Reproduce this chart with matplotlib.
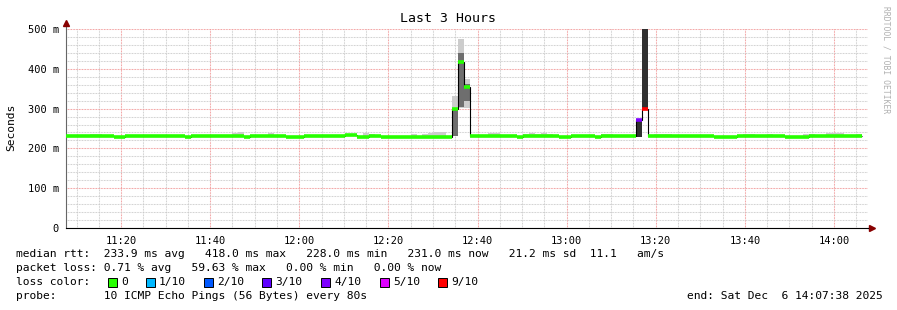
import numpy as np
import matplotlib
matplotlib.use("Agg")
import matplotlib.pyplot as plt
import matplotlib.dates as mdates
from matplotlib.patches import Rectangle
from datetime import datetime, timedelta

W, H = 897, 310

# time range of the graph, one step per probe round (80 s)
t_start = datetime(2025, 12, 6, 11, 7, 38)
t_end = datetime(2025, 12, 6, 14, 7, 38)
step_s = 80

# median rtt per step, ms
median_ms = [
    230, 230, 230, 230, 230, 230, 231, 231, 229, 229,
    230, 230, 230, 230, 230, 230, 230, 231, 231, 231,
    229, 230, 230, 230, 230, 230, 230, 230, 232, 232,
    229, 230, 230, 230, 230, 230, 230, 229, 229, 229,
    230, 230, 230, 230, 230, 230, 230, 234, 234, 228,
    228, 230, 230, 228, 229, 229, 229, 228, 228, 229,
    229, 229, 229, 229, 229, 299, 418, 355, 230, 230,
    230, 230, 230, 230, 230, 230, 229, 230, 230, 230,
    230, 230, 230, 228, 228, 230, 230, 230, 230, 228,
    230, 230, 230, 230, 230, 230, 271, 298, 230, 230,
    230, 230, 230, 230, 231, 231, 231, 230, 230, 229,
    229, 229, 229, 230, 230, 230, 230, 230, 230, 230,
    230, 229, 229, 229, 229, 230, 230, 230, 230, 230,
    230, 230, 230, 231,
]

# lost pings (of 10) where not zero
loss_steps = [96, 97]
loss_counts = [4, 9]

# smoke (spread of the 10 pings), ms
smoke_steps = [4, 5, 12, 17, 28, 29, 34, 50, 51, 58, 60, 61, 62, 63, 65, 66, 67,
               71, 72, 77, 78, 79, 80, 81, 90, 91, 96, 97, 99, 100, 101, 114, 115,
               118, 124, 125, 128, 129, 130, 133]
smoke_lo = [229, 229, 229, 229, 229, 229, 229, 229, 229, 229, 229, 229, 229, 229,
            231, 301, 301, 229, 229, 229, 229, 229, 229, 229, 229, 229, 229, 298,
            229, 229, 229, 229, 229, 229, 229, 229, 229, 229, 229, 229]
smoke_hi = [235, 235, 234, 234, 238, 240, 238, 238, 237, 235, 236, 238, 241, 240,
            332, 475, 374, 239, 239, 236, 238, 237, 238, 236, 236, 235, 272, 520,
            235, 235, 235, 236, 236, 235, 235, 235, 239, 239, 238, 235]
core_steps = [65, 66, 67, 96, 97]
core_lo = [231, 305, 318, 229, 298]
core_hi = [301, 440, 362, 272, 520]

loss_levels = [0, 1, 2, 3, 4, 5, 9]
loss_labels = ["0", "1/10", "2/10", "3/10", "4/10", "5/10", "9/10"]
loss_colors = ["#26ff00", "#00b8ff", "#0059ff", "#5e00ff", "#7e00ff", "#dd00ff", "#ff0000"]

y_ticks = [0, 100, 200, 300, 400, 500]

mono = "DejaVu Sans Mono"


def loss_color(n):
    c = loss_colors[0]
    for lvl, col in zip(loss_levels, loss_colors):
        if n >= lvl:
            c = col
    return c


n = len(median_ms)
loss = np.zeros(n, dtype=int)
loss[loss_steps] = loss_counts
edges = mdates.date2num([t_start + timedelta(seconds=step_s * i) for i in range(n + 1)])
w = step_s / 86400.0

fig = plt.figure(figsize=(W / 100, H / 100), dpi=100)
fig.patch.set_facecolor("white")
ax = fig.add_axes([66 / W, (H - 228) / H, (868 - 66) / W, (228 - 29) / H])
ax.set_xlim(mdates.date2num(t_start), mdates.date2num(t_end))
ax.set_ylim(0, 500)

# ---- grid ----
ax.set_axisbelow(True)
ax.xaxis.set_major_locator(mdates.MinuteLocator(byminute=[0, 20, 40]))
ax.xaxis.set_minor_locator(mdates.MinuteLocator(byminute=range(0, 60, 5)))
ax.xaxis.set_major_formatter(mdates.DateFormatter("%H:%M"))
ax.set_yticks(y_ticks, ["0" if v == 0 else f"{v} m" for v in y_ticks])
ax.set_yticks(np.arange(0, 501, 20), minor=True)
ax.grid(which="minor", color="#c8c8c8", linestyle=(0, (0.75, 0.75)), lw=0.75)
ax.grid(which="major", color="#f09090", linestyle=(0, (0.75, 0.75)), lw=0.75)
ax.tick_params(which="both", length=0)
ax.tick_params(axis="x", pad=6, labelsize=7.5)
ax.tick_params(axis="y", pad=5, labelsize=7.5)
for lab in ax.get_xticklabels() + ax.get_yticklabels():
    lab.set_fontfamily(mono)

for s in ["top", "right"]:
    ax.spines[s].set_visible(False)
ax.spines["left"].set_color("#666666")
ax.spines["bottom"].set_color("black")
ax.spines["left"].set_linewidth(0.8)
ax.spines["bottom"].set_linewidth(0.8)

# ---- smoke ----
sx = edges[smoke_steps]
ax.bar(sx, np.array(smoke_hi) - np.array(smoke_lo), bottom=smoke_lo, width=w,
       align="edge", color="#cccccc", lw=0, zorder=2)
cx = edges[core_steps]
core_col = ["#303030" if loss[k] >= 3 else "#6e6e6e" for k in core_steps]
ax.bar(cx, np.array(core_hi) - np.array(core_lo), bottom=core_lo, width=w,
       align="edge", color=core_col, lw=0, zorder=2.5)

# ---- median ----
ax.stairs(median_ms, edges, baseline=None, color="black", lw=0.8, zorder=3)
ax.hlines(median_ms, edges[:-1], edges[1:], colors=[loss_color(v) for v in loss],
          lw=2.6, zorder=4)

# axis arrows
ax.plot([0, 0], [1, 1.025], transform=ax.transAxes, color="#666666", lw=0.8, clip_on=False)
ax.plot([1, 1.004], [0, 0], transform=ax.transAxes, color="black", lw=0.8, clip_on=False)
ax.plot([0], [1.03], marker="^", ms=4, color="#880000", transform=ax.transAxes, clip_on=False)
ax.plot([1.005], [0], marker=">", ms=4, color="#880000", transform=ax.transAxes, clip_on=False)

# ---- texts ----
def ftext(x, y, s, **kw):
    kw.setdefault("fontfamily", mono)
    kw.setdefault("fontsize", 8.1)
    kw.setdefault("va", "center")
    return fig.text(x / W, 1 - y / H, s, **kw)


ftext(448, 19, "Last 3 Hours", fontsize=9.5, ha="center")
ftext(11, 127, "Seconds", rotation=90, ha="center")
ftext(886, 6, "RRDTOOL / TOBI OETIKER", rotation=270, ha="center", va="top",
      fontsize=5.8, color="#b0b0b0")

ftext(16, 254, "median rtt:  233.9 ms avg   418.0 ms max   228.0 ms min   231.0 ms now   21.2 ms sd  11.1   am/s")
ftext(16, 268, "packet loss: 0.71 % avg   59.63 % max   0.00 % min   0.00 % now")
ftext(16, 282, "loss color:")
sq_x = [108, 146, 204, 262, 321, 380, 438]
for x0, lab, col in zip(sq_x, loss_labels, loss_colors):
    fig.add_artist(Rectangle((x0 / W, 1 - 286.5 / H), 9 / W, 9 / H, transform=fig.transFigure,
                             facecolor=col, edgecolor="black", lw=0.7))
    ftext(x0 + 13, 282, lab)
ftext(16, 296, "probe:       10 ICMP Echo Pings (56 Bytes) every 80s")
ftext(883, 296, "end: Sat Dec  6 14:07:38 2025", ha="right")

fig.savefig("out.png", dpi=100)
